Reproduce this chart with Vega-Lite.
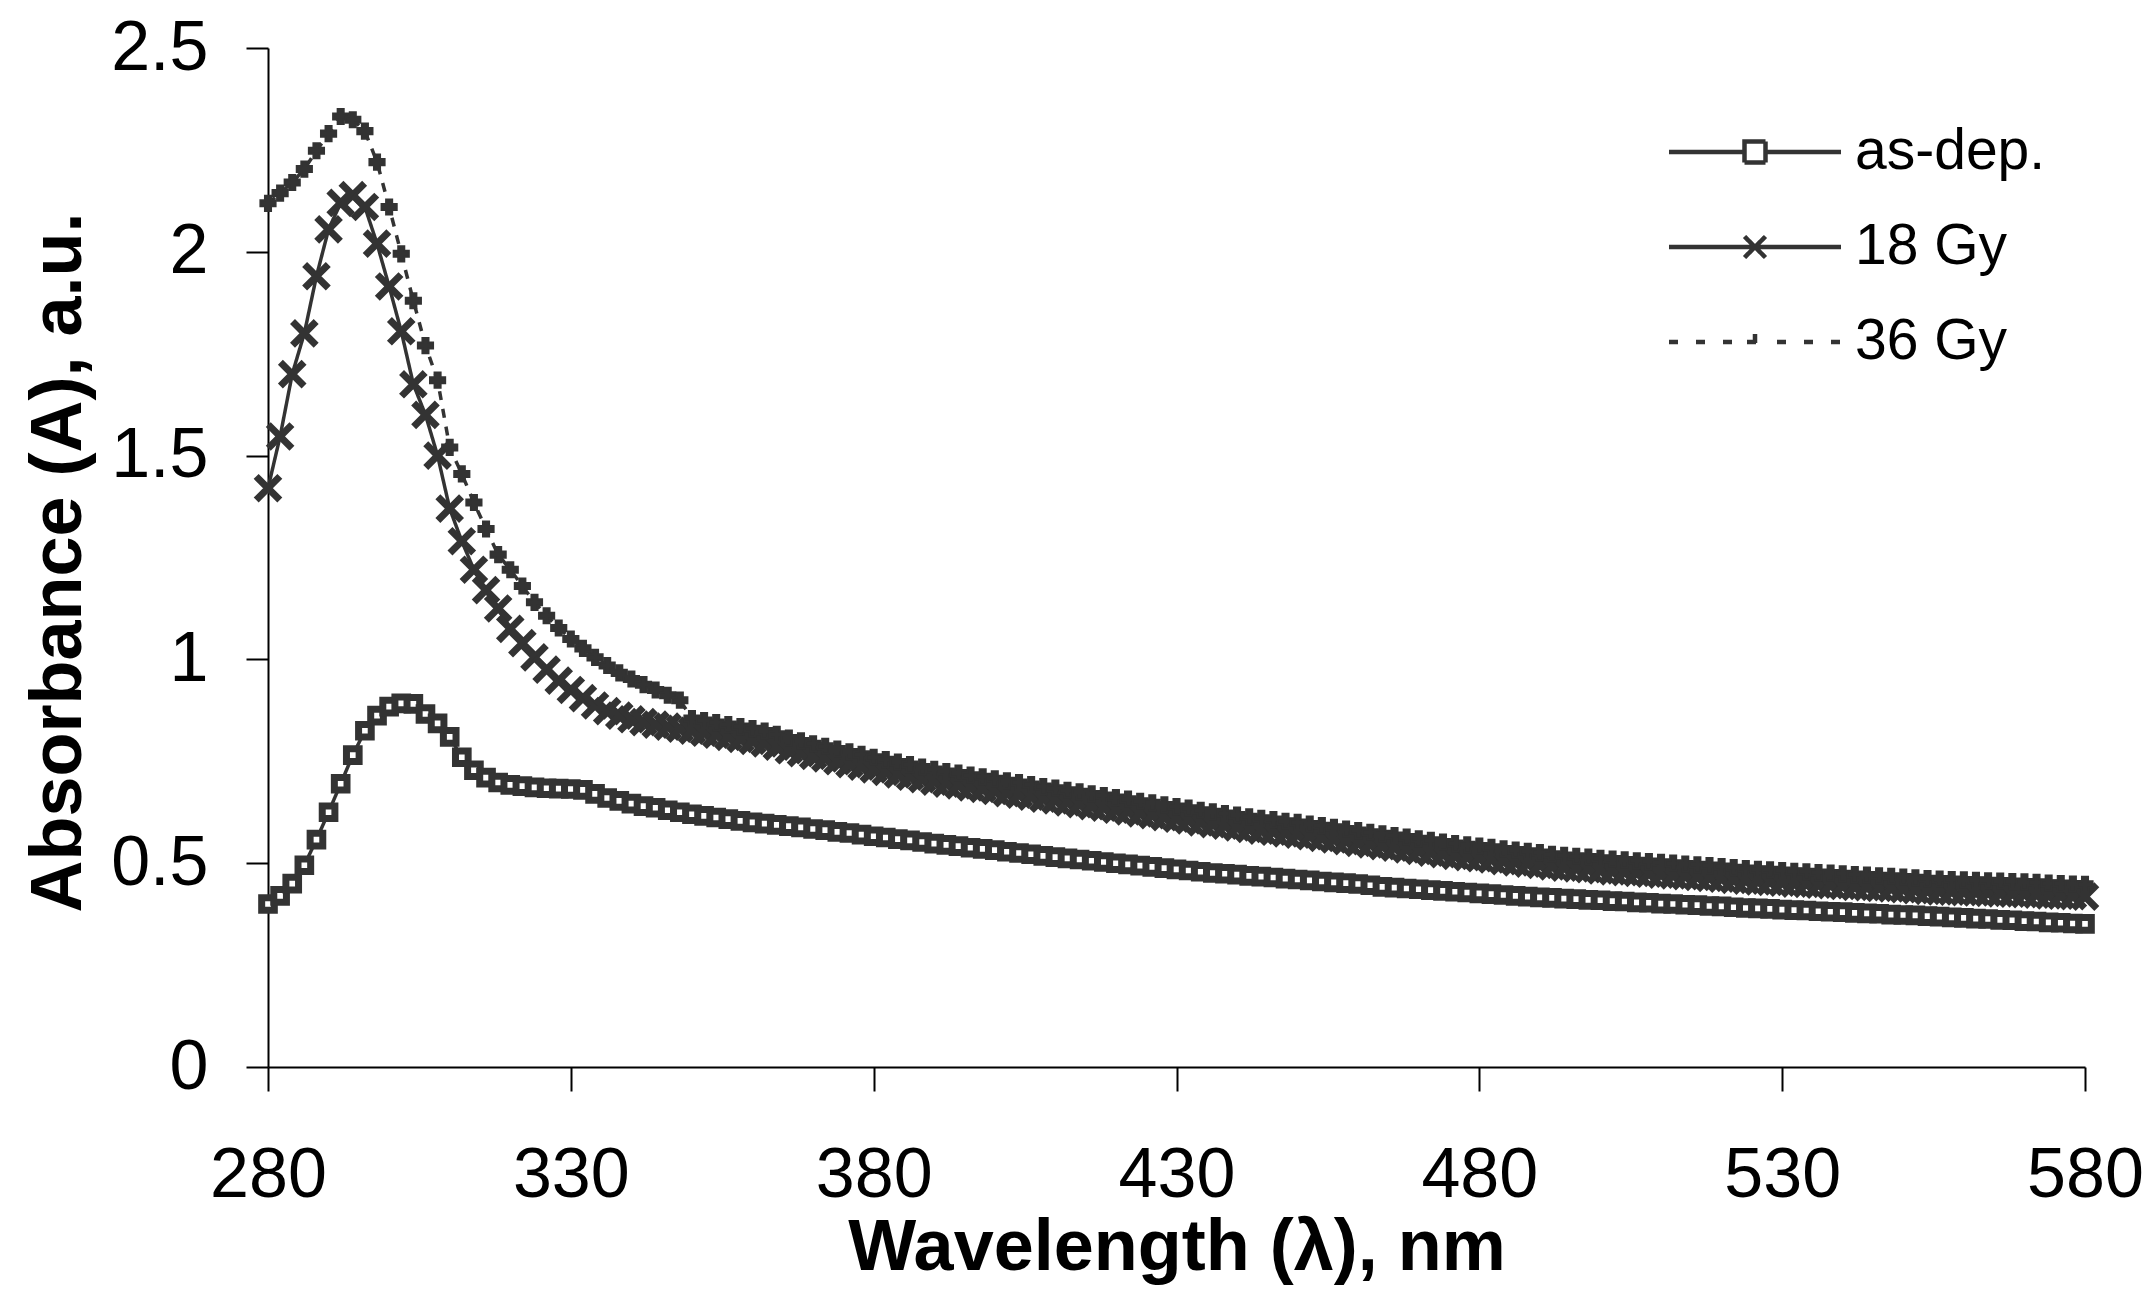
{
"$schema":"https://vega.github.io/schema/vega-lite/v6.json",
"width":1817,"height":1019,
"autosize":{"type":"none"},
"padding":{"left":268,"top":48,"right":69,"bottom":239},
"background":"white",
"config":{"font":"Liberation Sans","view":{"stroke":null},
"axis":{"grid":false,"domainColor":"black","domainWidth":2,"tickColor":"black","tickWidth":2,"labelColor":"black","titleColor":"black","labelFont":"Liberation Sans","titleFont":"Liberation Sans","labelFontSize":70,"titleFontSize":72,"titleFontWeight":"bold"}},
"data":{"values":[
{"s":"as-dep.","x":280,"y":0.4},{"s":"as-dep.","x":282,"y":0.42},{"s":"as-dep.","x":284,"y":0.45},{"s":"as-dep.","x":286,"y":0.495},{"s":"as-dep.","x":288,"y":0.558},{"s":"as-dep.","x":290,"y":0.625},{"s":"as-dep.","x":292,"y":0.695},{"s":"as-dep.","x":294,"y":0.765},{"s":"as-dep.","x":296,"y":0.825},{"s":"as-dep.","x":298,"y":0.862},{"s":"as-dep.","x":300,"y":0.884},{"s":"as-dep.","x":302,"y":0.892},{"s":"as-dep.","x":304,"y":0.891},{"s":"as-dep.","x":306,"y":0.866},{"s":"as-dep.","x":308,"y":0.843},{"s":"as-dep.","x":310,"y":0.81},{"s":"as-dep.","x":312,"y":0.76},{"s":"as-dep.","x":314,"y":0.728},{"s":"as-dep.","x":316,"y":0.71},{"s":"as-dep.","x":318,"y":0.698},{"s":"as-dep.","x":320,"y":0.692},{"s":"as-dep.","x":322,"y":0.689},{"s":"as-dep.","x":324,"y":0.686},{"s":"as-dep.","x":326,"y":0.684},{"s":"as-dep.","x":328,"y":0.683},{"s":"as-dep.","x":330,"y":0.682},{"s":"as-dep.","x":332,"y":0.68},{"s":"as-dep.","x":334,"y":0.67},{"s":"as-dep.","x":336,"y":0.66},{"s":"as-dep.","x":338,"y":0.653},{"s":"as-dep.","x":340,"y":0.646},{"s":"as-dep.","x":342,"y":0.64},{"s":"as-dep.","x":344,"y":0.636},{"s":"as-dep.","x":346,"y":0.63},{"s":"as-dep.","x":348,"y":0.625},{"s":"as-dep.","x":350,"y":0.62},{"s":"as-dep.","x":352,"y":0.616},{"s":"as-dep.","x":354,"y":0.612},{"s":"as-dep.","x":356,"y":0.608},{"s":"as-dep.","x":358,"y":0.604},{"s":"as-dep.","x":360,"y":0.6},{"s":"as-dep.","x":362,"y":0.597},{"s":"as-dep.","x":364,"y":0.594},{"s":"as-dep.","x":366,"y":0.591},{"s":"as-dep.","x":368,"y":0.588},{"s":"as-dep.","x":370,"y":0.584},{"s":"as-dep.","x":372,"y":0.581},{"s":"as-dep.","x":374,"y":0.577},{"s":"as-dep.","x":376,"y":0.574},{"s":"as-dep.","x":378,"y":0.57},{"s":"as-dep.","x":380,"y":0.566},{"s":"as-dep.","x":382,"y":0.563},{"s":"as-dep.","x":384,"y":0.559},{"s":"as-dep.","x":386,"y":0.556},{"s":"as-dep.","x":388,"y":0.552},{"s":"as-dep.","x":390,"y":0.548},{"s":"as-dep.","x":392,"y":0.545},{"s":"as-dep.","x":394,"y":0.542},{"s":"as-dep.","x":396,"y":0.538},{"s":"as-dep.","x":398,"y":0.535},{"s":"as-dep.","x":400,"y":0.532},{"s":"as-dep.","x":402,"y":0.528},{"s":"as-dep.","x":404,"y":0.525},{"s":"as-dep.","x":406,"y":0.522},{"s":"as-dep.","x":408,"y":0.518},{"s":"as-dep.","x":410,"y":0.515},{"s":"as-dep.","x":412,"y":0.512},{"s":"as-dep.","x":414,"y":0.509},{"s":"as-dep.","x":416,"y":0.506},{"s":"as-dep.","x":418,"y":0.503},{"s":"as-dep.","x":420,"y":0.5},{"s":"as-dep.","x":422,"y":0.497},{"s":"as-dep.","x":424,"y":0.494},{"s":"as-dep.","x":426,"y":0.491},{"s":"as-dep.","x":428,"y":0.488},{"s":"as-dep.","x":430,"y":0.485},{"s":"as-dep.","x":432,"y":0.482},{"s":"as-dep.","x":434,"y":0.479},{"s":"as-dep.","x":436,"y":0.476},{"s":"as-dep.","x":438,"y":0.474},{"s":"as-dep.","x":440,"y":0.472},{"s":"as-dep.","x":442,"y":0.469},{"s":"as-dep.","x":444,"y":0.467},{"s":"as-dep.","x":446,"y":0.465},{"s":"as-dep.","x":448,"y":0.462},{"s":"as-dep.","x":450,"y":0.46},{"s":"as-dep.","x":452,"y":0.458},{"s":"as-dep.","x":454,"y":0.455},{"s":"as-dep.","x":456,"y":0.453},{"s":"as-dep.","x":458,"y":0.451},{"s":"as-dep.","x":460,"y":0.449},{"s":"as-dep.","x":462,"y":0.446},{"s":"as-dep.","x":464,"y":0.442},{"s":"as-dep.","x":466,"y":0.44},{"s":"as-dep.","x":468,"y":0.438},{"s":"as-dep.","x":470,"y":0.436},{"s":"as-dep.","x":472,"y":0.434},{"s":"as-dep.","x":474,"y":0.432},{"s":"as-dep.","x":476,"y":0.43},{"s":"as-dep.","x":478,"y":0.428},{"s":"as-dep.","x":480,"y":0.426},{"s":"as-dep.","x":482,"y":0.424},{"s":"as-dep.","x":484,"y":0.422},{"s":"as-dep.","x":486,"y":0.42},{"s":"as-dep.","x":488,"y":0.418},{"s":"as-dep.","x":490,"y":0.416},{"s":"as-dep.","x":492,"y":0.415},{"s":"as-dep.","x":494,"y":0.413},{"s":"as-dep.","x":496,"y":0.412},{"s":"as-dep.","x":498,"y":0.41},{"s":"as-dep.","x":500,"y":0.409},{"s":"as-dep.","x":502,"y":0.407},{"s":"as-dep.","x":504,"y":0.406},{"s":"as-dep.","x":506,"y":0.404},{"s":"as-dep.","x":508,"y":0.403},{"s":"as-dep.","x":510,"y":0.401},{"s":"as-dep.","x":512,"y":0.4},{"s":"as-dep.","x":514,"y":0.398},{"s":"as-dep.","x":516,"y":0.397},{"s":"as-dep.","x":518,"y":0.395},{"s":"as-dep.","x":520,"y":0.394},{"s":"as-dep.","x":522,"y":0.392},{"s":"as-dep.","x":524,"y":0.39},{"s":"as-dep.","x":526,"y":0.389},{"s":"as-dep.","x":528,"y":0.388},{"s":"as-dep.","x":530,"y":0.386},{"s":"as-dep.","x":532,"y":0.385},{"s":"as-dep.","x":534,"y":0.384},{"s":"as-dep.","x":536,"y":0.382},{"s":"as-dep.","x":538,"y":0.381},{"s":"as-dep.","x":540,"y":0.38},{"s":"as-dep.","x":542,"y":0.378},{"s":"as-dep.","x":544,"y":0.377},{"s":"as-dep.","x":546,"y":0.376},{"s":"as-dep.","x":548,"y":0.374},{"s":"as-dep.","x":550,"y":0.373},{"s":"as-dep.","x":552,"y":0.372},{"s":"as-dep.","x":554,"y":0.37},{"s":"as-dep.","x":556,"y":0.369},{"s":"as-dep.","x":558,"y":0.367},{"s":"as-dep.","x":560,"y":0.366},{"s":"as-dep.","x":562,"y":0.364},{"s":"as-dep.","x":564,"y":0.363},{"s":"as-dep.","x":566,"y":0.361},{"s":"as-dep.","x":568,"y":0.36},{"s":"as-dep.","x":570,"y":0.358},{"s":"as-dep.","x":572,"y":0.357},{"s":"as-dep.","x":574,"y":0.355},{"s":"as-dep.","x":576,"y":0.354},{"s":"as-dep.","x":578,"y":0.352},{"s":"as-dep.","x":580,"y":0.351},
{"s":"18 Gy","x":280,"y":1.42},{"s":"18 Gy","x":282,"y":1.547},{"s":"18 Gy","x":284,"y":1.7},{"s":"18 Gy","x":286,"y":1.8},{"s":"18 Gy","x":288,"y":1.94},{"s":"18 Gy","x":290,"y":2.055},{"s":"18 Gy","x":292,"y":2.12},{"s":"18 Gy","x":294,"y":2.139},{"s":"18 Gy","x":296,"y":2.11},{"s":"18 Gy","x":298,"y":2.02},{"s":"18 Gy","x":300,"y":1.915},{"s":"18 Gy","x":302,"y":1.805},{"s":"18 Gy","x":304,"y":1.675},{"s":"18 Gy","x":306,"y":1.6},{"s":"18 Gy","x":308,"y":1.5},{"s":"18 Gy","x":310,"y":1.37},{"s":"18 Gy","x":312,"y":1.29},{"s":"18 Gy","x":314,"y":1.22},{"s":"18 Gy","x":316,"y":1.17},{"s":"18 Gy","x":318,"y":1.125},{"s":"18 Gy","x":320,"y":1.075},{"s":"18 Gy","x":322,"y":1.04},{"s":"18 Gy","x":324,"y":1.005},{"s":"18 Gy","x":326,"y":0.975},{"s":"18 Gy","x":328,"y":0.948},{"s":"18 Gy","x":330,"y":0.925},{"s":"18 Gy","x":332,"y":0.905},{"s":"18 Gy","x":334,"y":0.887},{"s":"18 Gy","x":336,"y":0.873},{"s":"18 Gy","x":338,"y":0.862},{"s":"18 Gy","x":340,"y":0.853},{"s":"18 Gy","x":342,"y":0.846},{"s":"18 Gy","x":344,"y":0.84},{"s":"18 Gy","x":346,"y":0.835},{"s":"18 Gy","x":348,"y":0.83},{"s":"18 Gy","x":350,"y":0.825},{"s":"18 Gy","x":352,"y":0.82},{"s":"18 Gy","x":354,"y":0.815},{"s":"18 Gy","x":356,"y":0.81},{"s":"18 Gy","x":358,"y":0.805},{"s":"18 Gy","x":360,"y":0.8},{"s":"18 Gy","x":362,"y":0.794},{"s":"18 Gy","x":364,"y":0.786},{"s":"18 Gy","x":366,"y":0.777},{"s":"18 Gy","x":368,"y":0.77},{"s":"18 Gy","x":370,"y":0.763},{"s":"18 Gy","x":372,"y":0.757},{"s":"18 Gy","x":374,"y":0.75},{"s":"18 Gy","x":376,"y":0.743},{"s":"18 Gy","x":378,"y":0.737},{"s":"18 Gy","x":380,"y":0.73},{"s":"18 Gy","x":382,"y":0.724},{"s":"18 Gy","x":384,"y":0.718},{"s":"18 Gy","x":386,"y":0.712},{"s":"18 Gy","x":388,"y":0.706},{"s":"18 Gy","x":390,"y":0.7},{"s":"18 Gy","x":392,"y":0.695},{"s":"18 Gy","x":394,"y":0.691},{"s":"18 Gy","x":396,"y":0.686},{"s":"18 Gy","x":398,"y":0.682},{"s":"18 Gy","x":400,"y":0.677},{"s":"18 Gy","x":402,"y":0.672},{"s":"18 Gy","x":404,"y":0.668},{"s":"18 Gy","x":406,"y":0.663},{"s":"18 Gy","x":408,"y":0.658},{"s":"18 Gy","x":410,"y":0.654},{"s":"18 Gy","x":412,"y":0.649},{"s":"18 Gy","x":414,"y":0.645},{"s":"18 Gy","x":416,"y":0.64},{"s":"18 Gy","x":418,"y":0.636},{"s":"18 Gy","x":420,"y":0.631},{"s":"18 Gy","x":422,"y":0.627},{"s":"18 Gy","x":424,"y":0.622},{"s":"18 Gy","x":426,"y":0.618},{"s":"18 Gy","x":428,"y":0.613},{"s":"18 Gy","x":430,"y":0.609},{"s":"18 Gy","x":432,"y":0.605},{"s":"18 Gy","x":434,"y":0.6},{"s":"18 Gy","x":436,"y":0.596},{"s":"18 Gy","x":438,"y":0.592},{"s":"18 Gy","x":440,"y":0.588},{"s":"18 Gy","x":442,"y":0.584},{"s":"18 Gy","x":444,"y":0.58},{"s":"18 Gy","x":446,"y":0.577},{"s":"18 Gy","x":448,"y":0.573},{"s":"18 Gy","x":450,"y":0.57},{"s":"18 Gy","x":452,"y":0.566},{"s":"18 Gy","x":454,"y":0.562},{"s":"18 Gy","x":456,"y":0.558},{"s":"18 Gy","x":458,"y":0.554},{"s":"18 Gy","x":460,"y":0.55},{"s":"18 Gy","x":462,"y":0.546},{"s":"18 Gy","x":464,"y":0.542},{"s":"18 Gy","x":466,"y":0.538},{"s":"18 Gy","x":468,"y":0.534},{"s":"18 Gy","x":470,"y":0.53},{"s":"18 Gy","x":472,"y":0.526},{"s":"18 Gy","x":474,"y":0.522},{"s":"18 Gy","x":476,"y":0.518},{"s":"18 Gy","x":478,"y":0.515},{"s":"18 Gy","x":480,"y":0.512},{"s":"18 Gy","x":482,"y":0.509},{"s":"18 Gy","x":484,"y":0.505},{"s":"18 Gy","x":486,"y":0.502},{"s":"18 Gy","x":488,"y":0.499},{"s":"18 Gy","x":490,"y":0.496},{"s":"18 Gy","x":492,"y":0.492},{"s":"18 Gy","x":494,"y":0.489},{"s":"18 Gy","x":496,"y":0.487},{"s":"18 Gy","x":498,"y":0.485},{"s":"18 Gy","x":500,"y":0.482},{"s":"18 Gy","x":502,"y":0.48},{"s":"18 Gy","x":504,"y":0.478},{"s":"18 Gy","x":506,"y":0.476},{"s":"18 Gy","x":508,"y":0.474},{"s":"18 Gy","x":510,"y":0.472},{"s":"18 Gy","x":512,"y":0.47},{"s":"18 Gy","x":514,"y":0.468},{"s":"18 Gy","x":516,"y":0.466},{"s":"18 Gy","x":518,"y":0.464},{"s":"18 Gy","x":520,"y":0.462},{"s":"18 Gy","x":522,"y":0.459},{"s":"18 Gy","x":524,"y":0.457},{"s":"18 Gy","x":526,"y":0.455},{"s":"18 Gy","x":528,"y":0.454},{"s":"18 Gy","x":530,"y":0.452},{"s":"18 Gy","x":532,"y":0.45},{"s":"18 Gy","x":534,"y":0.449},{"s":"18 Gy","x":536,"y":0.447},{"s":"18 Gy","x":538,"y":0.446},{"s":"18 Gy","x":540,"y":0.444},{"s":"18 Gy","x":542,"y":0.442},{"s":"18 Gy","x":544,"y":0.441},{"s":"18 Gy","x":546,"y":0.439},{"s":"18 Gy","x":548,"y":0.438},{"s":"18 Gy","x":550,"y":0.436},{"s":"18 Gy","x":552,"y":0.434},{"s":"18 Gy","x":554,"y":0.432},{"s":"18 Gy","x":556,"y":0.431},{"s":"18 Gy","x":558,"y":0.43},{"s":"18 Gy","x":560,"y":0.429},{"s":"18 Gy","x":562,"y":0.428},{"s":"18 Gy","x":564,"y":0.427},{"s":"18 Gy","x":566,"y":0.426},{"s":"18 Gy","x":568,"y":0.425},{"s":"18 Gy","x":570,"y":0.424},{"s":"18 Gy","x":572,"y":0.423},{"s":"18 Gy","x":574,"y":0.421},{"s":"18 Gy","x":576,"y":0.42},{"s":"18 Gy","x":578,"y":0.419},{"s":"18 Gy","x":580,"y":0.418},
{"s":"36 Gy","x":280,"y":2.119},{"s":"36 Gy","x":282,"y":2.144},{"s":"36 Gy","x":284,"y":2.17},{"s":"36 Gy","x":286,"y":2.203},{"s":"36 Gy","x":288,"y":2.248},{"s":"36 Gy","x":290,"y":2.29},{"s":"36 Gy","x":292,"y":2.332},{"s":"36 Gy","x":294,"y":2.324},{"s":"36 Gy","x":296,"y":2.296},{"s":"36 Gy","x":298,"y":2.22},{"s":"36 Gy","x":300,"y":2.11},{"s":"36 Gy","x":302,"y":1.995},{"s":"36 Gy","x":304,"y":1.88},{"s":"36 Gy","x":306,"y":1.77},{"s":"36 Gy","x":308,"y":1.685},{"s":"36 Gy","x":310,"y":1.52},{"s":"36 Gy","x":312,"y":1.455},{"s":"36 Gy","x":314,"y":1.385},{"s":"36 Gy","x":316,"y":1.32},{"s":"36 Gy","x":318,"y":1.257},{"s":"36 Gy","x":320,"y":1.22},{"s":"36 Gy","x":322,"y":1.18},{"s":"36 Gy","x":324,"y":1.14},{"s":"36 Gy","x":326,"y":1.107},{"s":"36 Gy","x":328,"y":1.077},{"s":"36 Gy","x":330,"y":1.05},{"s":"36 Gy","x":332,"y":1.027},{"s":"36 Gy","x":334,"y":1.005},{"s":"36 Gy","x":336,"y":0.985},{"s":"36 Gy","x":338,"y":0.967},{"s":"36 Gy","x":340,"y":0.952},{"s":"36 Gy","x":342,"y":0.938},{"s":"36 Gy","x":344,"y":0.925},{"s":"36 Gy","x":346,"y":0.912},{"s":"36 Gy","x":348,"y":0.9},{"s":"36 Gy","x":350,"y":0.855},{"s":"36 Gy","x":352,"y":0.85},{"s":"36 Gy","x":354,"y":0.845},{"s":"36 Gy","x":356,"y":0.84},{"s":"36 Gy","x":358,"y":0.835},{"s":"36 Gy","x":360,"y":0.83},{"s":"36 Gy","x":362,"y":0.824},{"s":"36 Gy","x":364,"y":0.816},{"s":"36 Gy","x":366,"y":0.807},{"s":"36 Gy","x":368,"y":0.8},{"s":"36 Gy","x":370,"y":0.793},{"s":"36 Gy","x":372,"y":0.787},{"s":"36 Gy","x":374,"y":0.78},{"s":"36 Gy","x":376,"y":0.773},{"s":"36 Gy","x":378,"y":0.767},{"s":"36 Gy","x":380,"y":0.76},{"s":"36 Gy","x":382,"y":0.754},{"s":"36 Gy","x":384,"y":0.748},{"s":"36 Gy","x":386,"y":0.742},{"s":"36 Gy","x":388,"y":0.736},{"s":"36 Gy","x":390,"y":0.73},{"s":"36 Gy","x":392,"y":0.725},{"s":"36 Gy","x":394,"y":0.721},{"s":"36 Gy","x":396,"y":0.716},{"s":"36 Gy","x":398,"y":0.712},{"s":"36 Gy","x":400,"y":0.707},{"s":"36 Gy","x":402,"y":0.702},{"s":"36 Gy","x":404,"y":0.698},{"s":"36 Gy","x":406,"y":0.693},{"s":"36 Gy","x":408,"y":0.688},{"s":"36 Gy","x":410,"y":0.684},{"s":"36 Gy","x":412,"y":0.679},{"s":"36 Gy","x":414,"y":0.675},{"s":"36 Gy","x":416,"y":0.67},{"s":"36 Gy","x":418,"y":0.666},{"s":"36 Gy","x":420,"y":0.661},{"s":"36 Gy","x":422,"y":0.657},{"s":"36 Gy","x":424,"y":0.652},{"s":"36 Gy","x":426,"y":0.648},{"s":"36 Gy","x":428,"y":0.643},{"s":"36 Gy","x":430,"y":0.639},{"s":"36 Gy","x":432,"y":0.635},{"s":"36 Gy","x":434,"y":0.63},{"s":"36 Gy","x":436,"y":0.626},{"s":"36 Gy","x":438,"y":0.622},{"s":"36 Gy","x":440,"y":0.618},{"s":"36 Gy","x":442,"y":0.614},{"s":"36 Gy","x":444,"y":0.61},{"s":"36 Gy","x":446,"y":0.607},{"s":"36 Gy","x":448,"y":0.603},{"s":"36 Gy","x":450,"y":0.6},{"s":"36 Gy","x":452,"y":0.596},{"s":"36 Gy","x":454,"y":0.592},{"s":"36 Gy","x":456,"y":0.588},{"s":"36 Gy","x":458,"y":0.584},{"s":"36 Gy","x":460,"y":0.58},{"s":"36 Gy","x":462,"y":0.576},{"s":"36 Gy","x":464,"y":0.572},{"s":"36 Gy","x":466,"y":0.568},{"s":"36 Gy","x":468,"y":0.564},{"s":"36 Gy","x":470,"y":0.56},{"s":"36 Gy","x":472,"y":0.556},{"s":"36 Gy","x":474,"y":0.552},{"s":"36 Gy","x":476,"y":0.548},{"s":"36 Gy","x":478,"y":0.545},{"s":"36 Gy","x":480,"y":0.542},{"s":"36 Gy","x":482,"y":0.539},{"s":"36 Gy","x":484,"y":0.535},{"s":"36 Gy","x":486,"y":0.532},{"s":"36 Gy","x":488,"y":0.529},{"s":"36 Gy","x":490,"y":0.526},{"s":"36 Gy","x":492,"y":0.522},{"s":"36 Gy","x":494,"y":0.519},{"s":"36 Gy","x":496,"y":0.517},{"s":"36 Gy","x":498,"y":0.515},{"s":"36 Gy","x":500,"y":0.512},{"s":"36 Gy","x":502,"y":0.51},{"s":"36 Gy","x":504,"y":0.508},{"s":"36 Gy","x":506,"y":0.506},{"s":"36 Gy","x":508,"y":0.504},{"s":"36 Gy","x":510,"y":0.502},{"s":"36 Gy","x":512,"y":0.5},{"s":"36 Gy","x":514,"y":0.498},{"s":"36 Gy","x":516,"y":0.496},{"s":"36 Gy","x":518,"y":0.494},{"s":"36 Gy","x":520,"y":0.492},{"s":"36 Gy","x":522,"y":0.489},{"s":"36 Gy","x":524,"y":0.487},{"s":"36 Gy","x":526,"y":0.485},{"s":"36 Gy","x":528,"y":0.484},{"s":"36 Gy","x":530,"y":0.482},{"s":"36 Gy","x":532,"y":0.48},{"s":"36 Gy","x":534,"y":0.479},{"s":"36 Gy","x":536,"y":0.477},{"s":"36 Gy","x":538,"y":0.476},{"s":"36 Gy","x":540,"y":0.474},{"s":"36 Gy","x":542,"y":0.472},{"s":"36 Gy","x":544,"y":0.471},{"s":"36 Gy","x":546,"y":0.469},{"s":"36 Gy","x":548,"y":0.468},{"s":"36 Gy","x":550,"y":0.466},{"s":"36 Gy","x":552,"y":0.464},{"s":"36 Gy","x":554,"y":0.462},{"s":"36 Gy","x":556,"y":0.461},{"s":"36 Gy","x":558,"y":0.46},{"s":"36 Gy","x":560,"y":0.459},{"s":"36 Gy","x":562,"y":0.458},{"s":"36 Gy","x":564,"y":0.457},{"s":"36 Gy","x":566,"y":0.456},{"s":"36 Gy","x":568,"y":0.455},{"s":"36 Gy","x":570,"y":0.454},{"s":"36 Gy","x":572,"y":0.453},{"s":"36 Gy","x":574,"y":0.451},{"s":"36 Gy","x":576,"y":0.45},{"s":"36 Gy","x":578,"y":0.449},{"s":"36 Gy","x":580,"y":0.448}
]},
"encoding":{
"x":{"field":"x","type":"quantitative","scale":{"domain":[280,580],"nice":false,"zero":false},
"axis":{"values":[280,330,380,430,480,530,580],"tickSize":24,"labelPadding":50,"labelFlush":false,"labelOverlap":false,"title":"Wavelength (λ), nm","titleBaseline":"alphabetic","titleY":202}},
"y":{"field":"y","type":"quantitative","scale":{"domain":[0,2.5],"nice":false},
"axis":{"values":[0,0.5,1,1.5,2,2.5],"format":"~g","tickSize":22,"labelPadding":38,"labelOverlap":false,"title":"Absorbance (A), a.u.","titleBaseline":"alphabetic","titleAngle":-90,"titleX":-188,"titleY":514}}
},
"layer":[
{"mark":{"type":"line","strokeWidth":3.5},
"encoding":{
"color":{"field":"s","type":"nominal","scale":{"domain":["as-dep.","18 Gy","36 Gy"],"range":["#333333","#333333","#333333"]},
"legend":{"title":null,"orient":"none","legendX":1458.5,"legendY":75.5,"padding":0,"labelFont":"Liberation Sans","labelFontSize":57,"labelColor":"black","labelLimit":0,"labelOffset":71.5,"symbolSize":400,"symbolStrokeWidth":4.5,"rowPadding":37,
"encode":{"symbols":{"update":{
"shape":{"signal":"datum.value === 'as-dep.' ? 'M-8.6,0H-1.05M1.05,0H8.6M-1.05,-1.05H1.05V1.05H-1.05Z' : datum.value === '18 Gy' ? 'M-8.6,0H8.6M-1.05,-1.05L1.05,1.05M-1.05,1.05L1.05,-1.05' : 'M-8.6,0H-7.6M-5.9,0H-4.9M-3.2,0H-2.2M2.2,0H3.2M4.9,0H5.9M7.6,0H8.6M-0.8,0H0.8M0,-0.8V0.8'"},
"fill":{"value":"white"},"stroke":{"value":"#333333"},"strokeWidth":{"value":4.5},"strokeDash":{"value":[1,0]},"opacity":{"value":1}}}}}},
"strokeDash":{"field":"s","type":"nominal","scale":{"domain":["as-dep.","18 Gy","36 Gy"],"range":[[1,0],[1,0],[9,9]]},"legend":null}
}},
{"transform":[{"filter":{"field":"s","equal":"as-dep."}}],
"mark":{"type":"point","shape":"square","size":160,"fill":"white","filled":false,"stroke":"#333333","strokeWidth":7,"opacity":1}},
{"transform":[{"filter":{"field":"s","equal":"18 Gy"}}],
"mark":{"type":"point","shape":"M-1,-1L1,1M-1,1L1,-1","size":560,"filled":false,"stroke":"#333333","strokeWidth":7,"opacity":1}},
{"transform":[{"filter":{"field":"s","equal":"36 Gy"}}],
"mark":{"type":"point","shape":"cross","size":230,"filled":true,"fill":"#333333","stroke":"#333333","strokeWidth":2,"opacity":1}}
]
}
